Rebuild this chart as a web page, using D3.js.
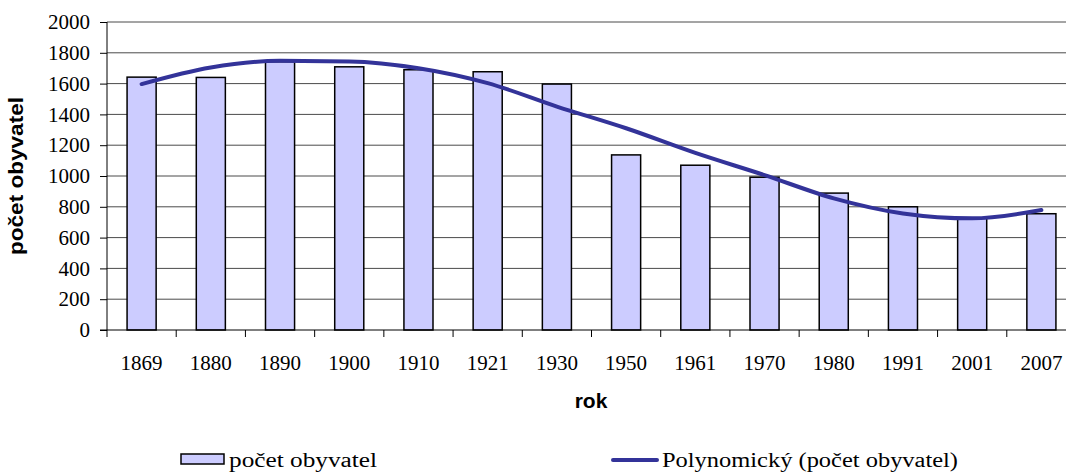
<!DOCTYPE html>
<html>
<head>
<meta charset="utf-8">
<script src="https://cdn.jsdelivr.net/npm/d3@7"></script>
<style>
  body { margin: 0; background: #fff; }
</style>
</head>
<body>
<div id="chart"></div>
<script>
// data
var years = ["1869", "1880", "1890", "1900", "1910", "1921", "1930", "1950", "1961", "1970", "1980", "1991", "2001", "2007"];
var population = [1642, 1640, 1742, 1709, 1690, 1677, 1597, 1137, 1070, 992, 889, 800, 725, 755];
var trend = [1597, 1705, 1748, 1744, 1700, 1603, 1451, 1310, 1150, 1006, 855, 757, 725, 779];
var yTicks = [0, 200, 400, 600, 800, 1000, 1200, 1400, 1600, 1800, 2000];

var svgWidth = 1066;
var svgHeight = 472;

var margin = { top: 22, right: -10, bottom: 142, left: 107 };
var width = svgWidth - margin.left - margin.right;
var height = svgHeight - margin.top - margin.bottom;

var serif = "'Liberation Serif', 'Times New Roman', serif";
var sans = "'Liberation Sans', Arial, sans-serif";

var svg = d3.select("#chart")
  .append("svg")
  .attr("width", svgWidth)
  .attr("height", svgHeight);

var chartGroup = svg.append("g")
  .attr("transform", `translate(${margin.left}, ${margin.top})`);

var xScale = d3.scaleBand()
  .domain(years)
  .range([0, width]);

var yScale = d3.scaleLinear()
  .domain([0, 2000])
  .range([height, 0]);

// gridlines
chartGroup.append("g")
  .selectAll("line")
  .data(yTicks.slice(1))
  .enter()
  .append("line")
  .attr("x1", 0)
  .attr("x2", width)
  .attr("y1", d => yScale(d))
  .attr("y2", d => yScale(d))
  .attr("stroke", "#4a4a4a")
  .attr("stroke-width", 1);

// bars
var barW = xScale.bandwidth() * 0.42;
chartGroup.selectAll("rect.bar")
  .data(population)
  .enter()
  .append("rect")
  .attr("class", "bar")
  .attr("x", (d, i) => xScale(years[i]) + (xScale.bandwidth() - barW) / 2)
  .attr("y", d => yScale(d))
  .attr("width", barW)
  .attr("height", d => height - yScale(d))
  .attr("fill", "#ccccff")
  .attr("stroke", "#000")
  .attr("stroke-width", 1.5);

// axes
var leftAxis = d3.axisLeft(yScale).tickValues(yTicks).tickFormat(d3.format("d")).tickSize(7).tickPadding(10);
var bottomAxis = d3.axisBottom(xScale).tickSize(0).tickPadding(25);

var yAxisG = chartGroup.append("g").call(leftAxis);
yAxisG.select(".domain").attr("d", `M0,${height}V0`).attr("stroke", "#000");
yAxisG.selectAll("text")
  .style("font-family", serif)
  .style("font-size", "21px")
  .attr("fill", "#000");

var xAxisG = chartGroup.append("g")
  .attr("transform", `translate(0, ${height})`)
  .call(bottomAxis);
xAxisG.select(".domain").attr("d", `M-7,0H${width}`).attr("stroke", "#000");
xAxisG.selectAll("text")
  .style("font-family", serif)
  .style("font-size", "21px")
  .attr("fill", "#000");

// category separators below the axis
xAxisG.selectAll("line.sep")
  .data(years)
  .enter()
  .append("line")
  .attr("class", "sep")
  .attr("x1", d => xScale(d))
  .attr("x2", d => xScale(d))
  .attr("y1", 0)
  .attr("y2", 7)
  .attr("stroke", "#000");

// polynomial trend line
var line = d3.line()
  .x((d, i) => xScale(years[i]) + xScale.bandwidth() / 2)
  .y(d => yScale(d))
  .curve(d3.curveMonotoneX);

chartGroup.append("path")
  .datum(trend)
  .attr("d", line)
  .attr("fill", "none")
  .attr("stroke", "#333399")
  .attr("stroke-width", 4)
  .attr("stroke-linecap", "round");

// axis titles
svg.append("text")
  .attr("transform", "translate(23, 176) rotate(-90)")
  .attr("text-anchor", "middle")
  .attr("textLength", 158)
  .attr("lengthAdjust", "spacingAndGlyphs")
  .style("font-family", sans)
  .style("font-weight", "bold")
  .style("font-size", "20px")
  .text("počet obyvatel");

svg.append("text")
  .attr("x", 591)
  .attr("y", 408)
  .attr("text-anchor", "middle")
  .style("font-family", sans)
  .style("font-weight", "bold")
  .style("font-size", "21px")
  .text("rok");

// legend
var legend = svg.append("g");
legend.append("rect")
  .attr("x", 181)
  .attr("y", 454)
  .attr("width", 43)
  .attr("height", 10)
  .attr("fill", "#ccccff")
  .attr("stroke", "#000")
  .attr("stroke-width", 1.5);
legend.append("text")
  .attr("x", 229)
  .attr("y", 467)
  .attr("textLength", 148)
  .attr("lengthAdjust", "spacingAndGlyphs")
  .style("font-family", serif)
  .style("font-size", "20px")
  .text("počet obyvatel");

legend.append("line")
  .attr("x1", 613)
  .attr("x2", 657)
  .attr("y1", 460)
  .attr("y2", 460)
  .attr("stroke", "#333399")
  .attr("stroke-width", 4)
  .attr("stroke-linecap", "round");
legend.append("text")
  .attr("x", 662)
  .attr("y", 467)
  .attr("textLength", 296)
  .attr("lengthAdjust", "spacingAndGlyphs")
  .style("font-family", serif)
  .style("font-size", "20px")
  .text("Polynomický (počet obyvatel)");
</script>
</body>
</html>
